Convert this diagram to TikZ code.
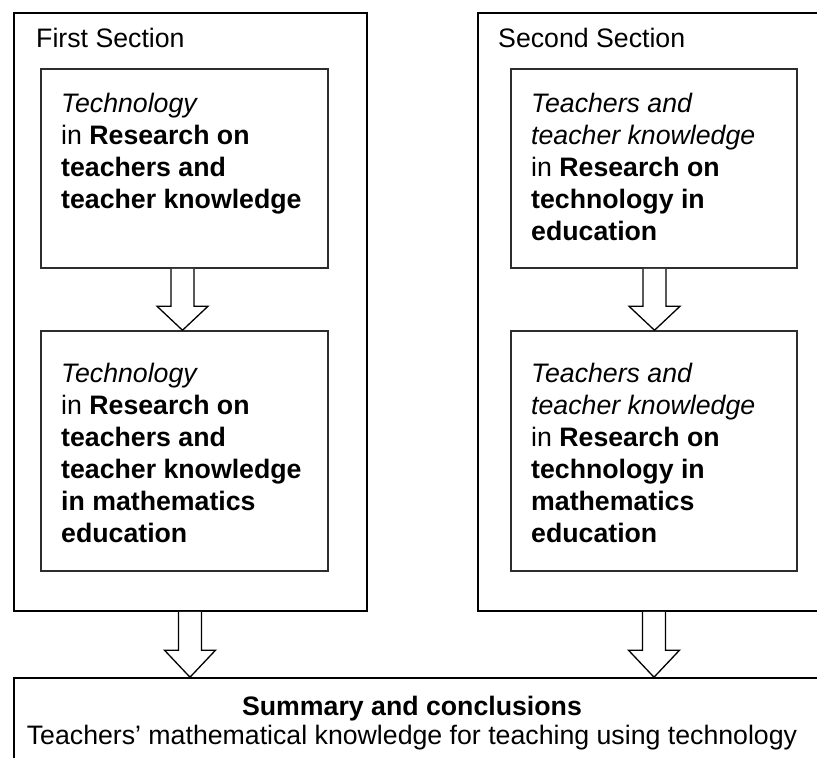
\documentclass[tikz,border=0pt]{standalone}
\usepackage{fontspec}
\setmainfont{Liberation Sans}
\usepackage{tikz}
\usetikzlibrary{positioning,calc}
\definecolor{framegray}{RGB}{45,45,45}
\tikzset{
  outerbox/.style={draw=black,line width=1.6pt,inner sep=0pt},
  innerbox/.style={draw=framegray,line width=1.5pt,inner sep=0pt},
  boxtext/.style={inner sep=0pt,align=left,anchor=base west,font=\fontsize{26.7}{32}\selectfont},
  hollowarrow/.style={draw=black,fill=white,line width=1.3pt,line join=miter}
}
% hollow block arrow: x position, upper node, lower node, head length
\newcommand{\hollowdown}[4]{%
  \draw[hollowarrow] let \p1=(#2.south), \p2=(#3.north) in
    (#1pt-11.5pt,\y1) -- (#1pt-11.5pt,\y2+#4pt) -- (#1pt-25.5pt,\y2+#4pt) -- (#1pt,\y2)
    -- (#1pt+25.5pt,\y2+#4pt) -- (#1pt+11.5pt,\y2+#4pt) -- (#1pt+11.5pt,\y1);
}

\begin{document}
\begin{tikzpicture}[x=1pt,y=1pt]
  \useasboundingbox (0,0) rectangle (817,-758);

  % sections
  \node[outerbox,minimum width=353pt,minimum height=598pt] (secA) at (190.5,-312) {};
  \node[outerbox,minimum width=353pt,minimum height=598pt] (secB) at (654.5,-312) {};
  \node[outerbox,minimum width=817pt,minimum height=122pt] (summary) at (422.5,-739) {};

  \node[boxtext] (secAtitle) at (36,-47) {First Section};
  \node[boxtext] (secBtitle) at (498,-47) {Second Section};

  % inner boxes
  \node[innerbox,minimum width=287pt,minimum height=199pt] (boxA1) at (184.5,-168.5) {};
  \node[innerbox,minimum width=287pt,minimum height=240pt] (boxA2) at (184.5,-451) {};
  \node[innerbox,minimum width=286pt,minimum height=199pt] (boxB1) at (654,-168.5) {};
  \node[innerbox,minimum width=286pt,minimum height=240pt] (boxB2) at (654,-451) {};

  % texts sit on the baseline of their last line
  \node[boxtext] (textA1) at (61,-208)
    {\textit{Technology}\\ in \textbf{Research on}\\ \textbf{teachers and}\\ \textbf{teacher knowledge}};
  \node[boxtext] (textA2) at (61,-542)
    {\textit{Technology}\\ in \textbf{Research on}\\ \textbf{teachers and}\\ \textbf{teacher knowledge}\\ \textbf{in mathematics}\\ \textbf{education}};
  \node[boxtext] (textB1) at (531,-240)
    {\textit{Teachers and}\\ \textit{teacher knowledge}\\ in \textbf{Research on}\\ \textbf{technology in}\\ \textbf{education}};
  \node[boxtext] (textB2) at (531,-542)
    {\textit{Teachers and}\\ \textit{teacher knowledge}\\ in \textbf{Research on}\\ \textbf{technology in}\\ \textbf{mathematics}\\ \textbf{education}};

  \node[boxtext,anchor=base,align=center] (summarytext) at (412,-744)
    {\textbf{Summary and conclusions}\\[-3pt] Teachers’ mathematical knowledge for teaching using technology};

  % arrows
  \hollowdown{182.5}{boxA1}{boxA2}{24}
  \hollowdown{654.5}{boxB1}{boxB2}{24}
  \hollowdown{190}{secA}{summary}{27}
  \hollowdown{654}{secB}{summary}{27}

\end{tikzpicture}
\end{document}
